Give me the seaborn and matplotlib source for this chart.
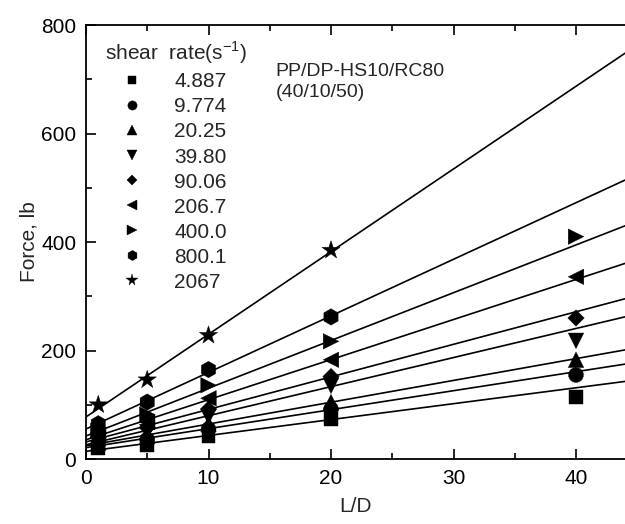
import numpy as np
import pandas as pd
import matplotlib
matplotlib.use("Agg")
import matplotlib.pyplot as plt
import seaborn as sns
from matplotlib.ticker import MultipleLocator

# ---- data ----
ld = [1, 5, 10, 20, 40]
rates = ["4.887", "9.774", "20.25", "39.80", "90.06", "206.7", "400.0", "800.1", "2067"]
markers = ["s", "o", "^", "v", "D", "<", ">", "h", "*"]
f_4887 = [20, 26, 42, 74, 114]
f_9774 = [27, 36, 55, 92, 155]
f_2025 = [30, 42, 65, 105, 183]
f_3980 = [35, 50, 78, 135, 218]
f_9006 = [40, 58, 92, 152, 260]
f_2067 = [45, 68, 112, 183, 336]
f_4000 = [52, 82, 136, 217, 410]
f_8001 = [65, 105, 165, 262, np.nan]
f_20670 = [100, 146, 228, 385, np.nan]
forces = [f_4887, f_9774, f_2025, f_3980, f_9006, f_2067, f_4000, f_8001, f_20670]

rows = []
for r, f in zip(rates, forces):
    for x, y in zip(ld, f):
        rows.append({"L/D": x, "Force": y, "rate": r})
df = pd.DataFrame(rows).dropna()

sns.set_style("ticks")
plt.rcParams["font.family"] = ["Liberation Sans", "DejaVu Sans"]
plt.rcParams["mathtext.fontset"] = "custom"
plt.rcParams["mathtext.rm"] = "Liberation Sans"

fig = plt.figure(figsize=(6.25, 5.24), dpi=100)
ax = fig.add_axes([0.1376, 0.124, 0.8624, 0.828])
ax.set_xlim(0, 44)
ax.set_ylim(0, 800)

# fitted lines through L/D <= 20
for r in rates:
    sub = df[(df["rate"] == r) & (df["L/D"] <= 20)]
    sns.regplot(data=sub, x="L/D", y="Force", ax=ax, scatter=False, ci=None,
                truncate=False, color="black", line_kws={"lw": 1.2})

ax.set_xlim(0, 44)
ax.set_ylim(0, 800)

msizes = [100, 115, 125, 125, 70, 125, 125, 140, 190]
sns.scatterplot(data=df, x="L/D", y="Force", style="rate", style_order=rates,
                markers=dict(zip(rates, markers)),
                size="rate", size_order=rates, sizes=dict(zip(rates, msizes)),
                color="black", edgecolor="black", linewidth=0.3, ax=ax,
                zorder=5, legend=True)

ax.set_xlim(0, 44)
ax.set_ylim(0, 800)

leg = ax.legend(title="shear  rate(s$^{-1}$)", frameon=False, fontsize=15,
                title_fontsize=15, loc="upper left", bbox_to_anchor=(0.008, 1.0),
                markerscale=0.62, labelspacing=0.29, handletextpad=0.72,
                borderaxespad=0.3, handlelength=2.6)
leg._legend_box.align = "left"

ax.text(0.352, 0.912, "PP/DP-HS10/RC80\n(40/10/50)", transform=ax.transAxes,
        fontsize=14, va="top", ha="left", linespacing=1.25)

ax.xaxis.set_major_locator(MultipleLocator(10))
ax.xaxis.set_minor_locator(MultipleLocator(5))
ax.yaxis.set_major_locator(MultipleLocator(200))
ax.yaxis.set_minor_locator(MultipleLocator(100))
ax.tick_params(which="both", direction="in", top=True, right=False,
               width=1.2, labelsize=15, colors="black", pad=7)
ax.tick_params(which="major", length=7)
ax.tick_params(which="minor", length=4)
for s in ["left", "bottom", "top"]:
    ax.spines[s].set_linewidth(1.3)
    ax.spines[s].set_color("black")
ax.spines["right"].set_visible(False)

ax.set_xlabel("L/D", fontsize=15, labelpad=7)
ax.set_ylabel("Force, lb", fontsize=15, labelpad=2)

fig.savefig("out.png", dpi=100)
